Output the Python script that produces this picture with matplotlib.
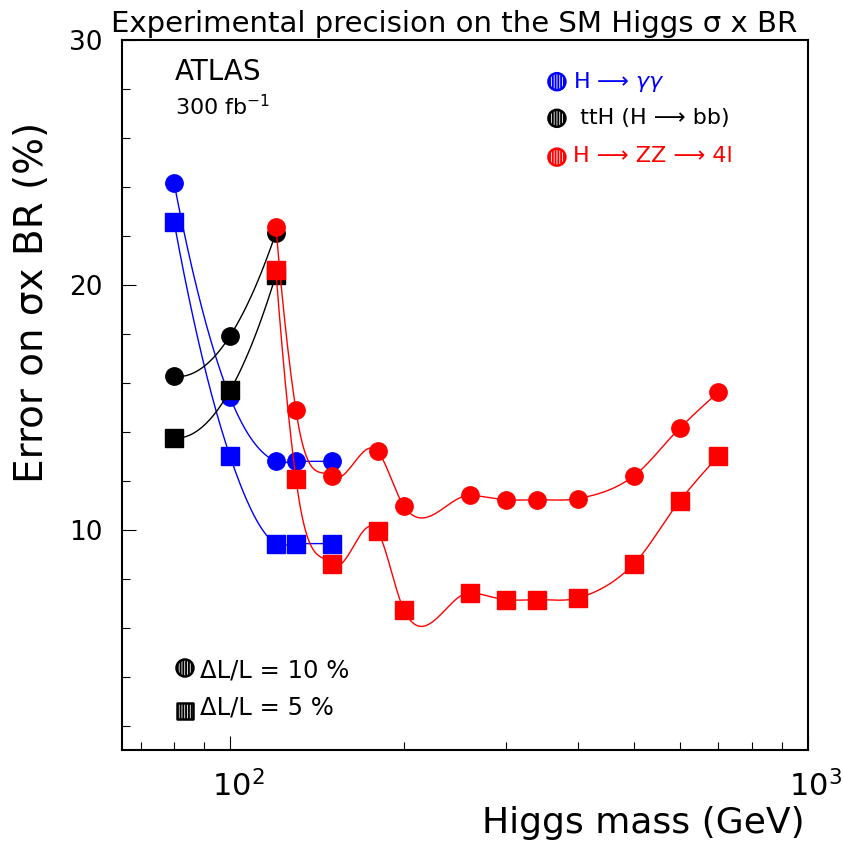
import numpy as np
import matplotlib
matplotlib.use('Agg')
import matplotlib.pyplot as plt
from matplotlib.ticker import FixedLocator, NullFormatter
import matplotlib.transforms as mtransforms

# masses (GeV)
m_gg_circ = [80, 100, 120, 130, 150]
gg_circ = [24.15, 15.4, 12.79, 12.79, 12.79]
m_gg_sq = [80, 100, 120, 130, 150]
gg_sq = [22.56, 12.99, 9.43, 9.43, 9.43]

m_tth = [80, 100, 120]
tth_circ = [16.26, 17.92, 22.12]
tth_sq = [13.74, 15.69, 20.4]

m_zz = [120, 130, 150, 180, 200, 260, 300, 340, 400, 500, 600, 700]
zz_circ = [22.38, 14.87, 12.18, 13.2, 10.95, 11.4, 11.22, 11.22, 11.27, 12.2, 14.15, 15.62]
zz_sq = [20.61, 12.07, 8.6, 9.93, 6.71, 7.42, 7.14, 7.14, 7.21, 8.61, 11.18, 13.0]

XMIN, XMAX = 65, 1000
YMIN, YMAX = 1, 30

plt.rcParams['hatch.linewidth'] = 0.6


def smooth(xs, ys, n=50):
    # piecewise cubic hermite in log(x), tangents from 3-point parabolas
    lx = np.log10(np.asarray(xs, float))
    y = np.asarray(ys, float)
    h = np.diff(lx)
    d = np.diff(y) / h
    m = np.empty(len(lx))
    m[1:-1] = (h[1:] * d[:-1] + h[:-1] * d[1:]) / (h[:-1] + h[1:])
    m[0] = ((2 * h[0] + h[1]) * d[0] - h[0] * d[1]) / (h[0] + h[1])
    m[-1] = ((2 * h[-1] + h[-2]) * d[-1] - h[-1] * d[-2]) / (h[-1] + h[-2])
    s = np.linspace(0, 1, n)
    h00 = 2 * s**3 - 3 * s**2 + 1
    h10 = s**3 - 2 * s**2 + s
    h01 = -2 * s**3 + 3 * s**2
    h11 = s**3 - s**2
    px, py = [], []
    for i in range(len(h)):
        px.append(lx[i] + s * h[i])
        py.append(h00 * y[i] + h10 * h[i] * m[i] + h01 * y[i + 1] + h11 * h[i] * m[i + 1])
    return 10 ** np.concatenate(px), np.concatenate(py)


fig = plt.figure(figsize=(8.44, 8.41), dpi=100)
ax = fig.add_axes([122 / 844, 1 - 750 / 841, 686 / 844, 710 / 841])
ax.set_xscale('log')
ax.set_xlim(XMIN, XMAX)
ax.set_ylim(YMIN, YMAX)

series = [
    (m_gg_circ, gg_circ, 'o', 'blue'),
    (m_gg_sq, gg_sq, 's', 'blue'),
    (m_tth, tth_circ, 'o', 'black'),
    (m_tth, tth_sq, 's', 'black'),
    (m_zz, zz_circ, 'o', 'red'),
    (m_zz, zz_sq, 's', 'red'),
]
z = 2
for xs, ys, mk, col in series:
    sx, sy = smooth(xs, ys)
    ax.plot(sx, sy, color=col, lw=1.0, zorder=z)
    ax.plot(xs, ys, ls='none', marker=mk, ms=12.5, color=col, mec=col, zorder=z + 0.5)
    z += 1

# axes style
for s in ax.spines.values():
    s.set_linewidth(1.5)
ax.xaxis.set_major_locator(FixedLocator([100, 1000]))
ax.xaxis.set_minor_locator(FixedLocator([70, 80, 90, 200, 300, 400, 500, 600, 700, 800, 900]))
ax.set_xticklabels(['$10^{2}$', '$10^{3}$'])
ax.xaxis.set_minor_formatter(NullFormatter())
ax.yaxis.set_major_locator(FixedLocator([10, 20, 30]))
ax.yaxis.set_minor_locator(FixedLocator([2, 4, 6, 8, 12, 14, 16, 18, 22, 24, 26, 28]))
ax.tick_params(which='both', direction='in', top=False, right=False, width=0.8)
ax.tick_params(which='major', length=10)
ax.tick_params(which='minor', length=5.5)
ax.tick_params(axis='x', which='major', labelsize=22, pad=14)
ax.tick_params(axis='y', which='major', labelsize=19, pad=14)
off = mtransforms.ScaledTranslation(8 / 100, 0, fig.dpi_scale_trans)
for lab in ax.get_xticklabels():
    lab.set_transform(lab.get_transform() + off)

# titles and labels
fig.text(454 / 844, 1 - 24 / 841, 'Experimental precision on the SM Higgs σ x BR',
         ha='center', va='center', fontsize=21)
fig.text(32 / 844, 1 - 302 / 841, 'Error on σx BR (%)', rotation=90,
         ha='center', va='center', fontsize=28)
fig.text(805 / 844, 1 - 833 / 841, 'Higgs mass (GeV)', ha='right', va='baseline', fontsize=26)

ax.text(0.077, 0.9437, 'ATLAS', transform=ax.transAxes, fontsize=20, va='baseline')
ax.text(0.077, 0.8944, '300 fb$^{-1}$', transform=ax.transAxes, fontsize=16, va='baseline')


def hatched(xf, yf, mk, col, size=150):
    kw = dict(s=size, marker=mk, transform=ax.transAxes, zorder=10)
    ax.scatter([xf], [yf], facecolor=col, edgecolor=col, linewidths=0, **kw)
    ax.scatter([xf], [yf], facecolor='none', edgecolor='white', hatch='||||||', linewidths=0, **kw)
    ax.scatter([xf], [yf], facecolor='none', edgecolor=col, linewidths=1.8, **kw)


# legend (drawn by hand, ROOT style)
leg = [('H ⟶ $\\gamma\\gamma$', 'blue', 0.9413, 0.9324),
       (' ttH (H ⟶ bb)', 'black', 0.8897, 0.8817),
       ('H ⟶ ZZ ⟶ 4l', 'red', 0.835, 0.8286)]
for txt, col, ym, yt in leg:
    hatched(0.634, ym, 'o', col)
    ax.text(0.657, yt, txt, color=col, fontsize=16, va='baseline', transform=ax.transAxes)

for mk, ym, yt, txt, sz in [('o', 0.1155, 0.1023, 'ΔL/L = 10 %', 150),
                            ('s', 0.0549, 0.0507, 'ΔL/L = 5 %', 120)]:
    hatched(0.0918, ym, mk, 'black', sz)
    ax.text(0.1137, yt, txt, color='black', fontsize=17.5, va='baseline', transform=ax.transAxes)

fig.savefig('out.png', dpi=100)
